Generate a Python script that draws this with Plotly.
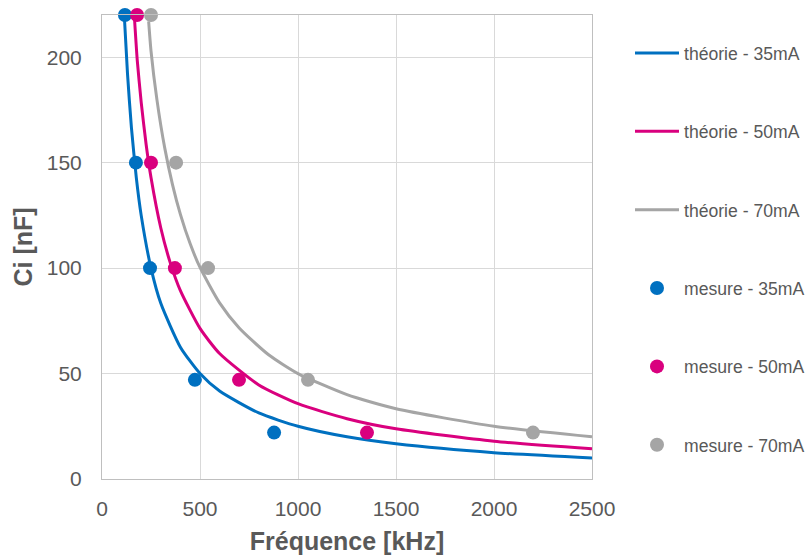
import plotly.graph_objects as go

# Measured points: capacitance (nF) vs frequency (kHz)
cap_meas = [220, 150, 100, 47, 22]
f_meas_35 = [117, 173, 245, 474, 878]
f_meas_50 = [179, 250, 372, 699, 1352]
f_meas_70 = [250, 378, 541, 1051, 2199]

# Theory curves
f_th_35 = [114, 130, 150, 175, 200, 250, 300, 400, 500, 600, 800, 1000, 1250, 1500, 2000, 2500]
c_th_35 = [219.3, 192.3, 166.7, 142.9, 125, 100, 83.3, 62.5, 50, 41.7, 31.3, 25, 20, 16.7, 12.5, 10]
f_th_50 = [166, 180, 200, 225, 250, 300, 350, 400, 500, 600, 800, 1000, 1250, 1500, 2000, 2500]
c_th_50 = [218, 198.4, 178.6, 158.7, 142.9, 119.0, 102.0, 89.3, 71.4, 59.5, 44.6, 35.7, 28.6, 23.8, 17.9, 14.3]
f_th_70 = [238, 250, 280, 320, 360, 400, 450, 500, 600, 700, 850, 1000, 1250, 1500, 2000, 2500]
c_th_70 = [217, 203, 180, 157, 139.5, 125.5, 111.5, 100.3, 83.5, 71.6, 58.9, 50, 40, 33.3, 25, 20]

x_ticks = [0, 500, 1000, 1500, 2000, 2500]
y_ticks = [0, 50, 100, 150, 200]

BLUE = "#0070c0"
MAGENTA = "#d9007e"
GRAY = "#a5a5a5"
TXT = "#595959"

fig = go.Figure()
for name, fx, cy, col in [("théorie - 35mA", f_th_35, c_th_35, BLUE),
                          ("théorie - 50mA", f_th_50, c_th_50, MAGENTA),
                          ("théorie - 70mA", f_th_70, c_th_70, GRAY)]:
    fig.add_trace(go.Scatter(x=fx, y=cy, mode="lines", name=name, legendgroup=name,
                             line=dict(color=col, width=3, shape="spline", smoothing=0.6)))
for name, fx, col in [("mesure - 35mA", f_meas_35, BLUE),
                      ("mesure - 50mA", f_meas_50, MAGENTA),
                      ("mesure - 70mA", f_meas_70, GRAY)]:
    fig.add_trace(go.Scatter(x=fx, y=cap_meas, mode="markers", name=name, legendgroup=name,
                             marker=dict(color=col, size=14), cliponaxis=False))

fig.update_layout(
    width=806, height=555,
    margin=dict(l=102, r=214, t=15, b=76, autoexpand=False),
    paper_bgcolor="white", plot_bgcolor="white",
    font=dict(family="Liberation Sans, Arial, sans-serif", color=TXT, size=21),
    showlegend=True,
    legend=dict(x=1 + (630 - 592) / 490, y=0.957, xanchor="left", yanchor="top",
                font=dict(size=17.6, color=TXT), tracegroupgap=52.5,
                itemwidth=44, bgcolor="rgba(0,0,0,0)"),
    xaxis=dict(range=[0, 2500], tickvals=x_ticks, showgrid=True, gridcolor="#d9d9d9",
               gridwidth=1, zeroline=False, showline=True, linecolor="#bfbfbf",
               linewidth=1, mirror=True, ticks="outside", ticklen=11,
               tickcolor="rgba(0,0,0,0)", automargin=False,
               tickfont=dict(size=21, color=TXT),
               title=dict(text="<b>Fréquence [kHz]</b>", font=dict(size=25, color=TXT), standoff=14)),
    yaxis=dict(range=[0, 220], tickvals=y_ticks, showgrid=True, gridcolor="#d9d9d9",
               gridwidth=1, zeroline=False, showline=True, linecolor="#bfbfbf",
               linewidth=1, mirror=True, ticks="outside", ticklen=15,
               tickcolor="rgba(0,0,0,0)", automargin=False,
               tickfont=dict(size=21, color=TXT),
               title=dict(text="<b>Ci [nF]</b>", font=dict(size=25, color=TXT), standoff=7)),
)

fig.write_html("out.html")
